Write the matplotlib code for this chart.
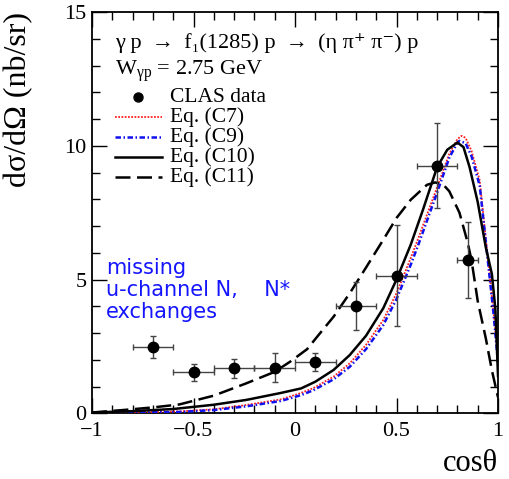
import matplotlib
matplotlib.use("Agg")
import matplotlib.pyplot as plt
from matplotlib.ticker import MultipleLocator

plt.rcParams['font.family'] = ['Liberation Serif', 'DejaVu Serif']
plt.rcParams['mathtext.fontset'] = 'custom'
plt.rcParams['mathtext.rm'] = 'Liberation Serif'
plt.rcParams['mathtext.it'] = 'Liberation Serif:italic'
plt.rcParams['mathtext.bf'] = 'Liberation Serif:bold'
plt.rcParams['mathtext.fallback'] = 'stix'

# CLAS data
x_data = [-0.7, -0.5, -0.3, -0.1, 0.1, 0.3, 0.5, 0.7, 0.85]
y_data = [2.48, 1.53, 1.68, 1.71, 1.93, 4.01, 5.15, 9.26, 5.74]
xerr_data = [0.1, 0.1, 0.1, 0.1, 0.1, 0.1, 0.1, 0.1, 0.05]
yerr_data = [0.42, 0.33, 0.35, 0.54, 0.34, 0.9, 1.9, 1.6, 1.42]

# Eq. (C7)  red dotted
x_c7 = [-1.0, -0.8, -0.57, -0.4, -0.24, -0.07, 0.03, 0.09, 0.19, 0.27, 0.35, 0.435, 0.5,
        0.57, 0.61, 0.7, 0.76, 0.8, 0.82, 0.84, 0.87, 0.91, 0.95, 0.977, 1.0]
y_c7 = [0.01, 0.03, 0.07, 0.15, 0.31, 0.52, 0.76, 0.94, 1.37, 1.87, 2.56, 3.49, 4.49,
        5.8, 6.6, 8.45, 9.7, 10.25, 10.37, 10.3, 9.8, 8.7, 5.8, 3.86, 2.0]
# Eq. (C9)  blue dash-dot
x_c9 = [-1.0, -0.8, -0.57, -0.4, -0.24, -0.07, 0.03, 0.09, 0.19, 0.27, 0.35, 0.435, 0.5,
        0.57, 0.61, 0.7, 0.76, 0.8, 0.81, 0.84, 0.87, 0.91, 0.95, 0.977, 1.0]
y_c9 = [0.01, 0.02, 0.05, 0.12, 0.26, 0.46, 0.68, 0.86, 1.27, 1.74, 2.4, 3.3, 4.27,
        5.55, 6.35, 8.25, 9.55, 10.12, 10.18, 10.1, 9.6, 8.5, 5.7, 3.8, 1.9]
# Eq. (C10) solid
x_c10 = [-1.0, -0.8, -0.6, -0.4, -0.24, -0.07, 0.03, 0.1, 0.19, 0.27, 0.35, 0.435, 0.5,
         0.57, 0.63, 0.7, 0.75, 0.8, 0.83, 0.86, 0.9, 0.94, 0.97, 0.987, 1.0]
y_c10 = [0.03, 0.08, 0.16, 0.32, 0.5, 0.76, 0.93, 1.18, 1.62, 2.18, 2.9, 3.93, 5.0,
         6.3, 7.6, 9.2, 9.85, 10.12, 9.95, 9.2, 7.9, 6.2, 5.2, 3.9, 1.4]
# Eq. (C11) dashed
x_c11 = [-1.0, -0.85, -0.7, -0.57, -0.4, -0.24, -0.1, -0.02, 0.06, 0.11, 0.19, 0.27, 0.35,
         0.44, 0.5, 0.57, 0.65, 0.69, 0.73, 0.76, 0.81, 0.85, 0.87, 0.9, 0.94, 0.97, 1.0]
y_c11 = [0.03, 0.12, 0.22, 0.33, 0.66, 1.12, 1.55, 1.95, 2.4, 2.87, 3.61, 4.49, 5.45,
         6.55, 7.3, 7.98, 8.54, 8.63, 8.55, 8.3, 7.5, 6.4, 5.7, 4.2, 2.8, 1.6, 0.6]

labels = ["CLAS data", "Eq. (C7)", "Eq. (C9)", "Eq. (C10)", "Eq. (C11)"]

fig = plt.figure(figsize=(5.09, 4.79), dpi=100)
ax = fig.add_axes([92/509, 1-413.3/479, 406/509, 401.3/479])

st_c7 = dict(color='#ff2020', lw=1.3, ls=(0, (1, 0.8)))
st_c9 = dict(color='#1010ee', lw=1.8, ls=(0, (2.2, 1.0, 0.6, 1.0)))
st_c10 = dict(color='black', lw=1.8, ls='-')
st_c11 = dict(color='black', lw=1.8, ls=(0, (6, 2.6)))

ax.plot(x_c7, y_c7, **st_c7, zorder=3)
ax.plot(x_c9, y_c9, **st_c9, zorder=3)
ax.plot(x_c10, y_c10, **st_c10, zorder=4)
ax.plot(x_c11, y_c11, **st_c11, zorder=4)

ax.errorbar(x_data, y_data, xerr=xerr_data, yerr=yerr_data, fmt='o', color='black',
            ms=7.5, ecolor='#444444', elinewidth=1.0, capsize=2.5, capthick=1.0, zorder=5)

ax.set_xlim(-1, 1)
ax.set_ylim(0, 15)
ax.xaxis.set_major_locator(MultipleLocator(0.5))
ax.xaxis.set_minor_locator(MultipleLocator(0.1))
ax.yaxis.set_major_locator(MultipleLocator(5))
ax.yaxis.set_minor_locator(MultipleLocator(1))
ax.tick_params(which='both', direction='in', top=True, right=True, labelsize=16, width=1.0)
ax.tick_params(which='major', length=11)
ax.tick_params(which='minor', length=6)
ax.xaxis.set_major_formatter(plt.FuncFormatter(lambda v, p: ('%g' % v).replace('-', '\u2212')))
for s in ax.spines.values():
    s.set_linewidth(1.3)
ax.tick_params(axis='x', pad=6)
ax.tick_params(axis='y', pad=4)

ax.set_ylabel('dσ/dΩ (nb/sr)', fontsize=23)
ax.yaxis.set_label_coords(-0.145, 1.0)
ax.yaxis.label.set_horizontalalignment('right')
ax.set_xlabel('cosθ', fontsize=22)
ax.xaxis.set_label_coords(1.0, -0.088)
ax.xaxis.label.set_horizontalalignment('right')

def ax_xy(px, py):
    return ((px - 92) / 406.0, (413.3 - py) / 401.3)

# header text
tx, ty = ax_xy(115, 43)
ax.text(tx, ty, 'γ p \u2009→\u2009 f₁(1285) p \u2009→\u2009 (η π⁺ π⁻) p',
        transform=ax.transAxes, fontsize=16, va='center', ha='left',
        family=['Liberation Serif', 'DejaVu Serif'])
tx, ty = ax_xy(115, 71)
ax.text(tx, ty, r'W$_{\mathrm{\gamma p}}$ = 2.75 GeV', transform=ax.transAxes,
        fontsize=16, va='center', ha='left')

# legend
rows = [97, 117, 137, 157, 177]
styles = [None, st_c7, st_c9, st_c10, st_c11]
for lab, py, st in zip(labels, rows, styles):
    x0, yy = ax_xy(115, py)
    x1, _ = ax_xy(162, py)
    xm, _ = ax_xy(138, py)
    xt, _ = ax_xy(170, py)
    if st is None:
        ax.plot([xm], [yy], 'o', color='black', ms=6.5, transform=ax.transAxes, clip_on=False)
    else:
        ax.plot([x0, x1], [yy, yy], transform=ax.transAxes, **st)
    ax.text(xt, yy, lab, transform=ax.transAxes, fontsize=15.5, va='center', ha='left')

tx, ty = ax_xy(106, 290)
ax.text(tx, ty, 'missing\nu-channel N,    N*\nexchanges', transform=ax.transAxes,
        fontsize=15, color='#1515ff', family=['DejaVu Sans'], va='center', ha='left',
        linespacing=1.1)

fig.savefig('out.png', dpi=100)
